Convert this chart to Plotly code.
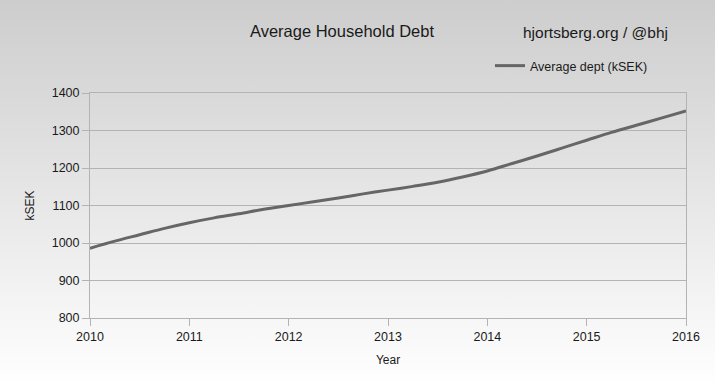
import plotly.graph_objects as go
import base64

# Data (quarterly reading of the curve)
years = [2010.0, 2010.25, 2010.5, 2010.75, 2011.0, 2011.25, 2011.5, 2011.75,
         2012.0, 2012.25, 2012.5, 2012.75, 2013.0, 2013.25, 2013.5, 2013.75,
         2014.0, 2014.25, 2014.5, 2014.75, 2015.0, 2015.25, 2015.5, 2015.75, 2016.0]
debt = [986, 1005, 1022, 1039, 1054, 1067, 1078, 1090,
        1100, 1110, 1120, 1131, 1141, 1151, 1162, 1176,
        1192, 1212, 1232, 1253, 1274, 1295, 1314, 1333, 1352]
x_ticks = [2010, 2011, 2012, 2013, 2014, 2015, 2016]
y_ticks = [800, 900, 1000, 1100, 1200, 1300, 1400]

FONT = "Liberation Sans, Arial, sans-serif"

svg = ('<svg xmlns="http://www.w3.org/2000/svg" width="100" height="100" preserveAspectRatio="none">'
       '<defs><linearGradient id="g" x1="0" y1="0" x2="0" y2="1">'
       '<stop offset="0" stop-color="#cdcdcd"/><stop offset="1" stop-color="#ffffff"/>'
       '</linearGradient></defs><rect width="100" height="100" fill="url(#g)"/></svg>')
svg_uri = "data:image/svg+xml;base64," + base64.b64encode(svg.encode()).decode()

W, H = 715, 388
ml, mr, mt, mb = 90, 29, 93, 70
pw, ph = W - ml - mr, H - mt - mb

fig = go.Figure()
fig.add_trace(go.Scatter(x=years, y=debt, mode="lines", name="Average dept (kSEK)",
                         hoverinfo="skip",
                         line=dict(color="#666666", width=3, shape="spline")))

fig.update_layout(
    width=W, height=H,
    margin=dict(l=ml, r=mr, t=mt, b=mb),
    paper_bgcolor="white",
    plot_bgcolor="rgba(0,0,0,0)",
    font=dict(family=FONT, size=12.5, color="#1a1a1a"),
    title=dict(text="Average Household Debt", x=342 / W, xanchor="center",
               y=1 - 31 / H, yanchor="middle", font=dict(size=16.5, color="#1a1a1a")),
    showlegend=True,
    legend=dict(x=(490 - ml) / pw, xanchor="left", y=1 + (mt - 66) / ph, yanchor="middle",
                bgcolor="rgba(0,0,0,0)", font=dict(size=12.5)),
    xaxis=dict(range=[2010, 2016], tickvals=x_ticks, ticktext=[str(t) for t in x_ticks],
               showgrid=False, showline=True, linecolor="#b3b3b3", linewidth=1,
               ticks="outside", ticklen=7, tickcolor="#b3b3b3", mirror=True,
               zeroline=False, automargin=False,
               title=dict(text="Year", standoff=12, font=dict(size=12))),
    yaxis=dict(range=[800, 1400], tickvals=y_ticks, showgrid=True, gridcolor="#b3b3b3",
               gridwidth=1, showline=True, linecolor="#b3b3b3", linewidth=1,
               ticks="outside", ticklen=7, tickcolor="#b3b3b3", mirror=True,
               zeroline=False, automargin=False,
               title=dict(text="kSEK", standoff=14, font=dict(size=12))),
    images=[dict(source=svg_uri, xref="paper", yref="paper",
                 x=-ml / pw, y=1 + mt / ph, sizex=W / pw, sizey=H / ph,
                 sizing="stretch", layer="below", xanchor="left", yanchor="top")],
    annotations=[dict(text="hjortsberg.org / @bhj", xref="paper", yref="paper",
                      x=(595 - ml) / pw, y=1 + (mt - 32) / ph, xanchor="center",
                      yanchor="middle", showarrow=False, font=dict(size=15.5, color="#1a1a1a"))],
)

fig.write_html("out.html", config={"displayModeBar": False},
               post_script="document.body.style.margin='0';document.body.style.overflow='hidden';")
